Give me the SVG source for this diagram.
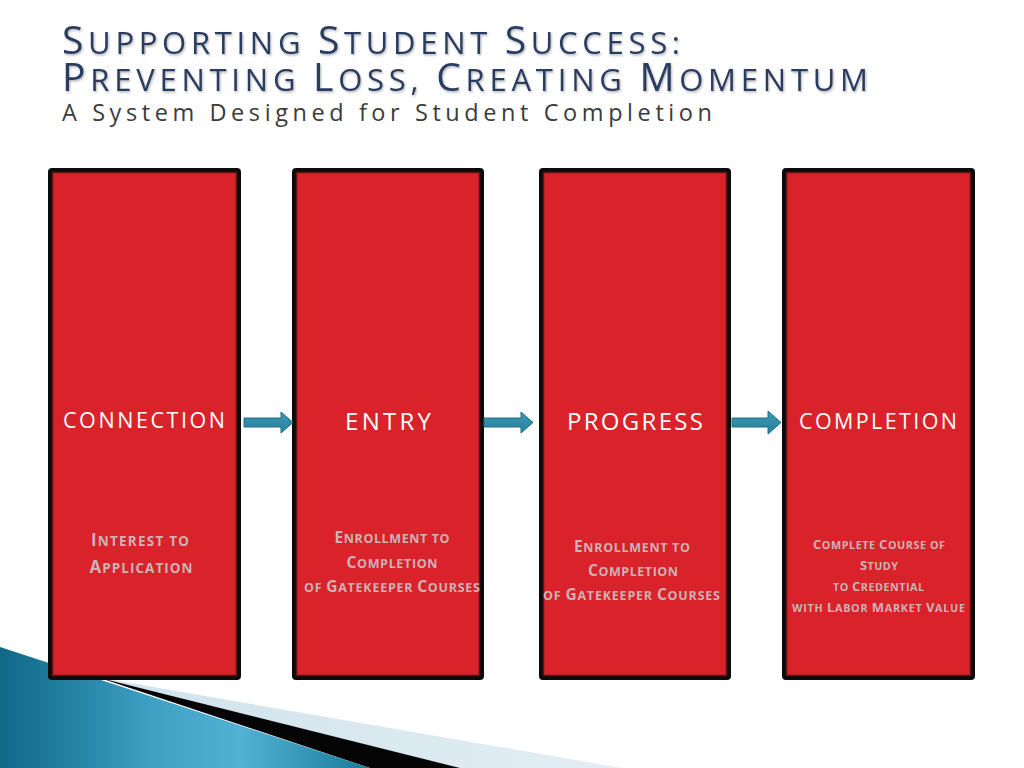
<svg xmlns="http://www.w3.org/2000/svg" width="1024" height="768" viewBox="0 0 1024 768">
<defs>
<style>
.title{font-family:"Open Sans","Liberation Sans",sans-serif;fill:#2a3d60;}
.sub{font-family:"Open Sans","Liberation Sans",sans-serif;fill:#3b3b3b;font-size:23.5px;}
.head{font-family:"Open Sans","Liberation Sans",sans-serif;fill:#ffffff;text-anchor:middle;}
.desc{font-family:"Open Sans","Liberation Sans",sans-serif;fill:#cdb3b5;font-weight:bold;text-anchor:middle;}
.outer{fill:#0b0b0b;}
.mid{fill:#d9222a;stroke:#5a1414;stroke-width:1.5;}
.arrow{fill:url(#ag);stroke:#1f6f88;stroke-width:1;}
</style>
<linearGradient id="tg" x1="0" y1="0" x2="1" y2="0">
<stop offset="0" stop-color="#0f6886"/>
<stop offset="0.4" stop-color="#3e9fc3"/>
<stop offset="0.65" stop-color="#52b2d4"/>
<stop offset="1" stop-color="#1a7a9a"/>
</linearGradient>
<linearGradient id="lg" x1="0" y1="0" x2="1" y2="0">
<stop offset="0" stop-color="#cfe2ec"/>
<stop offset="1" stop-color="#e3eef4"/>
</linearGradient>
<linearGradient id="ag" x1="0" y1="0" x2="0" y2="1">
<stop offset="0" stop-color="#3b98b3"/>
<stop offset="1" stop-color="#26809c"/>
</linearGradient>
<filter id="sh" x="-5%" y="-20%" width="110%" height="140%">
<feDropShadow dx="1" dy="1.5" stdDeviation="1" flood-color="#000" flood-opacity="0.3"/>
</filter>
</defs>
<rect width="1024" height="768" fill="#ffffff"/>

<g id="decor">
<polygon points="95,677 622,768 460,768" fill="url(#lg)"/>
<polygon points="100,678 460,768 370,768" fill="#050505"/>
<polygon points="0,647 370,768 0,768" fill="url(#tg)"/>
</g>

<g id="title" filter="url(#sh)">
<text class="title" x="62" y="54" textLength="618" lengthAdjust="spacing"><tspan font-size="39">S</tspan><tspan font-size="31">UPPORTING </tspan><tspan font-size="39">S</tspan><tspan font-size="31">TUDENT </tspan><tspan font-size="39">S</tspan><tspan font-size="31">UCCESS:</tspan></text>
<text class="title" x="62" y="91" textLength="806" lengthAdjust="spacing"><tspan font-size="39">P</tspan><tspan font-size="31">REVENTING </tspan><tspan font-size="39">L</tspan><tspan font-size="31">OSS, </tspan><tspan font-size="39">C</tspan><tspan font-size="31">REATING </tspan><tspan font-size="39">M</tspan><tspan font-size="31">OMENTUM</tspan></text>
</g>
<text class="sub" x="62" y="121" textLength="650" lengthAdjust="spacing">A System Designed for Student Completion</text>

<g id="connection">
<rect class="outer" x="48" y="168" width="193" height="512" rx="4"/>
<rect class="mid" x="52.5" y="172.5" width="184" height="503"/>
<text class="head" x="144" y="428" font-size="21.5" textLength="162" lengthAdjust="spacing">CONNECTION</text>
<text class="desc" x="140" y="546" textLength="98" lengthAdjust="spacing"><tspan font-size="17">I</tspan><tspan font-size="13.5">NTEREST TO</tspan></text>
<text class="desc" x="141" y="573" textLength="103" lengthAdjust="spacing"><tspan font-size="17">A</tspan><tspan font-size="13.5">PPLICATION</tspan></text>
</g>

<g id="entry">
<rect class="outer" x="292" y="168" width="192" height="512" rx="4"/>
<rect class="mid" x="296.5" y="172.5" width="183" height="503"/>
<text class="head" x="388" y="430" font-size="24" textLength="86" lengthAdjust="spacing">ENTRY</text>
<text class="desc" x="392" y="543" textLength="115" lengthAdjust="spacing"><tspan font-size="15.5">E</tspan><tspan font-size="12.5">NROLLMENT TO</tspan></text>
<text class="desc" x="392" y="568" textLength="91" lengthAdjust="spacing"><tspan font-size="15.5">C</tspan><tspan font-size="12.5">OMPLETION</tspan></text>
<text class="desc" x="392" y="592" textLength="176" lengthAdjust="spacing"><tspan font-size="12.5">OF </tspan><tspan font-size="15.5">G</tspan><tspan font-size="12.5">ATEKEEPER </tspan><tspan font-size="15.5">C</tspan><tspan font-size="12.5">OURSES</tspan></text>
</g>

<g id="progress">
<rect class="outer" x="539" y="168" width="192" height="512" rx="4"/>
<rect class="mid" x="543.5" y="172.5" width="183" height="503"/>
<text class="head" x="635" y="430" font-size="24" textLength="136" lengthAdjust="spacing">PROGRESS</text>
<text class="desc" x="632" y="552" textLength="116" lengthAdjust="spacing"><tspan font-size="15.5">E</tspan><tspan font-size="12.5">NROLLMENT TO</tspan></text>
<text class="desc" x="633" y="576" textLength="90" lengthAdjust="spacing"><tspan font-size="15.5">C</tspan><tspan font-size="12.5">OMPLETION</tspan></text>
<text class="desc" x="631.5" y="600" textLength="177" lengthAdjust="spacing"><tspan font-size="12.5">OF </tspan><tspan font-size="15.5">G</tspan><tspan font-size="12.5">ATEKEEPER </tspan><tspan font-size="15.5">C</tspan><tspan font-size="12.5">OURSES</tspan></text>
</g>

<g id="completion">
<rect class="outer" x="782" y="168" width="193" height="512" rx="4"/>
<rect class="mid" x="786.5" y="172.5" width="184" height="503"/>
<text class="head" x="878" y="429" font-size="21.5" textLength="158" lengthAdjust="spacing">COMPLETION</text>
<text class="desc" x="879" y="549" textLength="132" lengthAdjust="spacing"><tspan font-size="13">C</tspan><tspan font-size="10.8">OMPLETE </tspan><tspan font-size="13">C</tspan><tspan font-size="10.8">OURSE OF</tspan></text>
<text class="desc" x="879" y="570" textLength="38" lengthAdjust="spacing"><tspan font-size="13">S</tspan><tspan font-size="10.8">TUDY</tspan></text>
<text class="desc" x="878.5" y="591" textLength="91" lengthAdjust="spacing"><tspan font-size="10.8">TO </tspan><tspan font-size="13">C</tspan><tspan font-size="10.8">REDENTIAL</tspan></text>
<text class="desc" x="878.5" y="612" textLength="173" lengthAdjust="spacing"><tspan font-size="10.8">WITH </tspan><tspan font-size="13">L</tspan><tspan font-size="10.8">ABOR </tspan><tspan font-size="13">M</tspan><tspan font-size="10.8">ARKET </tspan><tspan font-size="13">V</tspan><tspan font-size="10.8">ALUE</tspan></text>
</g>

<g id="connectors">
<polygon class="arrow" points="244,418 281,418 281,412 293,422.5 281,433 281,427 244,427"/>
<polygon class="arrow" points="484,418 521,418 521,412 533,422.5 521,433 521,427 484,427"/>
<polygon class="arrow" points="732,418 768,418 768,411 781,422.5 768,434 768,427 732,427"/>
</g>
</svg>
